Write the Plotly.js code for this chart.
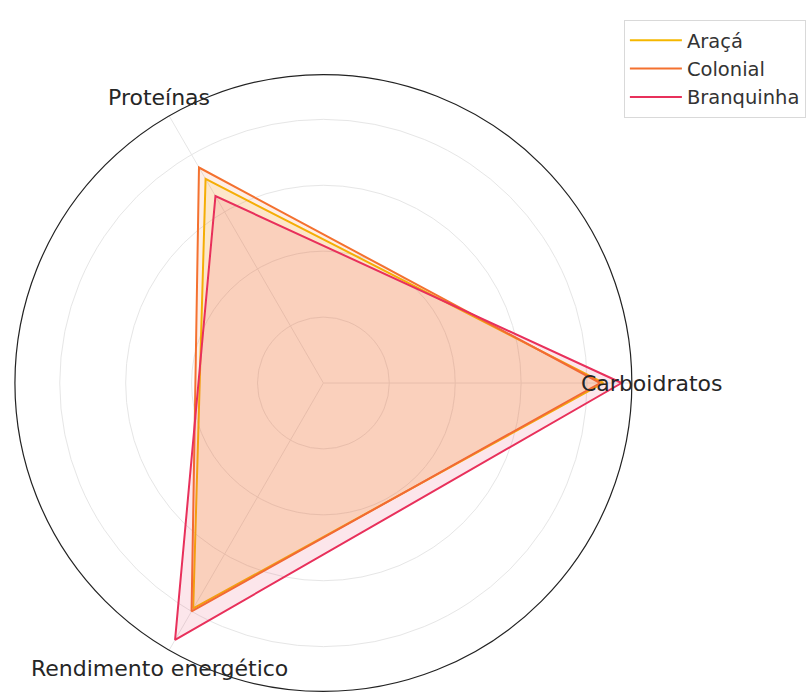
<!DOCTYPE html>
<html>
<head>
<meta charset="utf-8">
<script src="https://cdn.plot.ly/plotly-3.0.1.min.js"></script>
<style>html,body{margin:0;padding:0;background:#fff;}#chart{width:806px;height:693px;}</style>
</head>
<body>
<div id="chart"></div>
<script>
const categories = ["Carboidratos", "Proteínas", "Rendimento energético"];
const seriesNames = ["Araçá", "Colonial", "Branquinha"];
const aracaValues = [0.85, 0.715, 0.79];
const colonialValues = [0.84, 0.755, 0.80];
const branquinhaValues = [0.905, 0.655, 0.90];
const seriesColors = ["#F5B700", "#F4712F", "#E8305B"];
const fillColors = ["rgba(245,183,0,0.12)", "rgba(244,113,47,0.12)", "rgba(232,48,91,0.12)"];
const radialMax = 0.936;
const gridVals = [0.2, 0.4, 0.6, 0.8];

const W = 806, H = 693;
const domX = [15/806, 635/806];
const domY = [0, 620/693];

const allValues = [aracaValues, colonialValues, branquinhaValues];
const traces = [];
allValues.forEach((vals, i) => {
  traces.push({
    type: 'scatterpolar',
    r: vals.concat([vals[0]]),
    theta: categories.concat([categories[0]]),
    mode: 'none',
    fill: 'toself',
    fillcolor: fillColors[i],
    showlegend: false,
    hoverinfo: 'skip'
  });
  traces.push({
    type: 'scatterpolar',
    r: vals.concat([vals[0]]),
    theta: categories.concat([categories[0]]),
    mode: 'lines',
    name: seriesNames[i],
    line: {color: seriesColors[i], width: 2}
  });
});

// category labels placed just outside the outer circle, like matplotlib
const cxPx = (domX[0] + domX[1]) / 2 * W;
const cyPx = (domY[0] + domY[1]) / 2 * H;
const Rpx = Math.min((domX[1] - domX[0]) * W, (domY[1] - domY[0]) * H) / 2;
const labelFactor = 1.065;
const annotations = categories.map((c, i) => {
  const ang = i * 2 * Math.PI / categories.length;
  return {
    xref: 'paper', yref: 'paper',
    x: (cxPx + Rpx * labelFactor * Math.cos(ang)) / W,
    y: (cyPx + Rpx * labelFactor * Math.sin(ang)) / H,
    text: c, showarrow: false, xanchor: 'center', yanchor: 'middle',
    font: {family: 'DejaVu Sans', size: 22, color: '#262626'}
  };
});

const layout = {
  width: W,
  height: H,
  margin: {l: 0, r: 0, t: 0, b: 0},
  paper_bgcolor: '#ffffff',
  font: {family: 'DejaVu Sans', color: '#262626'},
  annotations: annotations,
  polar: {
    domain: {x: domX, y: domY},
    bgcolor: '#ffffff',
    radialaxis: {
      range: [0, radialMax],
      tickvals: gridVals,
      showticklabels: false,
      ticks: '',
      showline: false,
      gridcolor: '#e6e6e6',
      gridwidth: 1
    },
    angularaxis: {
      type: 'category',
      categoryarray: categories,
      rotation: 0,
      direction: 'counterclockwise',
      showticklabels: false,
      ticks: '',
      showline: true,
      linecolor: '#222222',
      linewidth: 1.2,
      gridcolor: '#e6e6e6',
      gridwidth: 1
    }
  },
  showlegend: true,
  legend: {
    x: 627/806, y: 1 - 20/693, xanchor: 'left', yanchor: 'top',
    bordercolor: '#d9d9d9', borderwidth: 1, bgcolor: 'rgba(255,255,255,0.8)',
    font: {family: 'DejaVu Sans', size: 19.5, color: '#333333'},
    itemwidth: 52
  }
};

Plotly.newPlot('chart', traces, layout, {displayModeBar: false, staticPlot: true});
</script>
</body>
</html>
